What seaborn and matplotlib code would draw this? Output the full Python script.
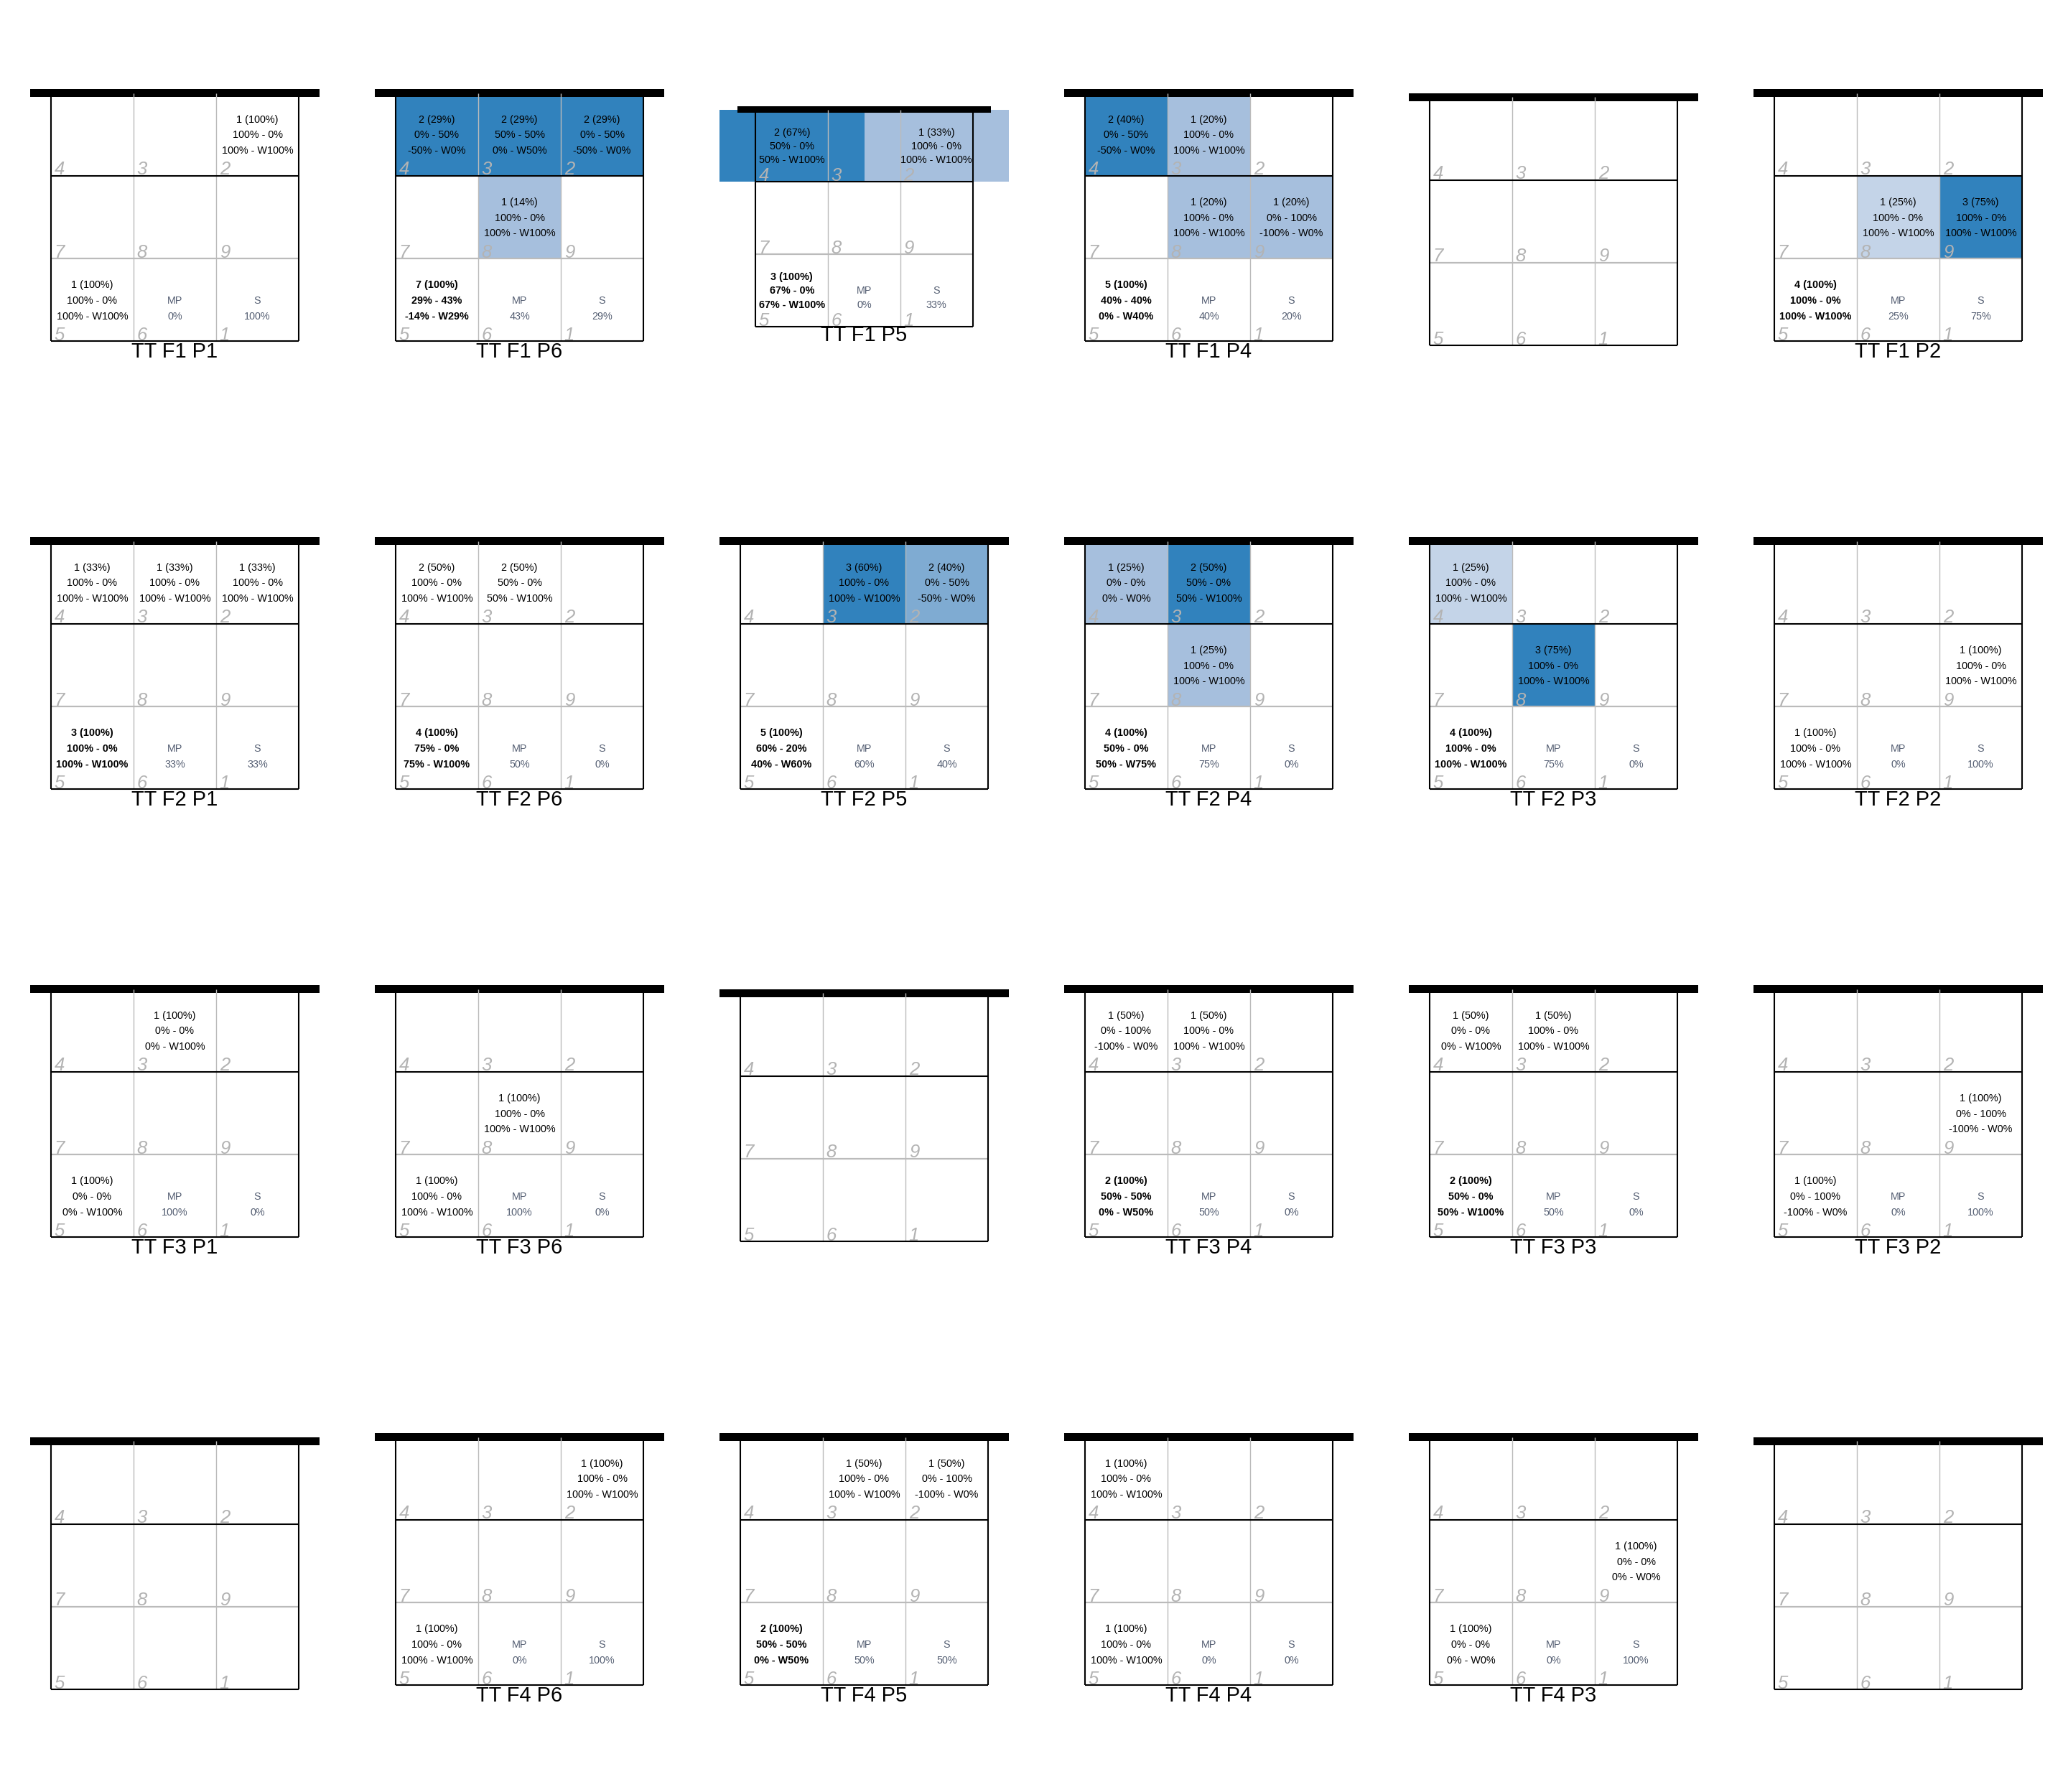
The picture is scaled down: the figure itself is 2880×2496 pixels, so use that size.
import matplotlib
matplotlib.use("Agg")
import matplotlib.pyplot as plt
import seaborn as sns

# panel titles, row by row (4 rows x 6 columns), None = empty court
titles = [
    "TT F1 P1", "TT F1 P6", "TT F1 P5", "TT F1 P4", None, "TT F1 P2",
    "TT F2 P1", "TT F2 P6", "TT F2 P5", "TT F2 P4", "TT F2 P3", "TT F2 P2",
    "TT F3 P1", "TT F3 P6", None, "TT F3 P4", "TT F3 P3", "TT F3 P2",
    None, "TT F4 P6", "TT F4 P5", "TT F4 P4", "TT F4 P3", None,
]

# attack zones per panel: (zone, count, pct, line 2, line 3)
attacks = [
    [(2, 1, 100, "100% - 0%", "100% - W100%")],
    [(4, 2, 29, "0% - 50%", "-50% - W0%"), (3, 2, 29, "50% - 50%", "0% - W50%"),
     (2, 2, 29, "0% - 50%", "-50% - W0%"), (8, 1, 14, "100% - 0%", "100% - W100%")],
    [(4, 2, 67, "50% - 0%", "50% - W100%"), (2, 1, 33, "100% - 0%", "100% - W100%")],
    [(4, 2, 40, "0% - 50%", "-50% - W0%"), (3, 1, 20, "100% - 0%", "100% - W100%"),
     (8, 1, 20, "100% - 0%", "100% - W100%"), (9, 1, 20, "0% - 100%", "-100% - W0%")],
    [],
    [(8, 1, 25, "100% - 0%", "100% - W100%"), (9, 3, 75, "100% - 0%", "100% - W100%")],

    [(4, 1, 33, "100% - 0%", "100% - W100%"), (3, 1, 33, "100% - 0%", "100% - W100%"),
     (2, 1, 33, "100% - 0%", "100% - W100%")],
    [(4, 2, 50, "100% - 0%", "100% - W100%"), (3, 2, 50, "50% - 0%", "50% - W100%")],
    [(3, 3, 60, "100% - 0%", "100% - W100%"), (2, 2, 40, "0% - 50%", "-50% - W0%")],
    [(4, 1, 25, "0% - 0%", "0% - W0%"), (3, 2, 50, "50% - 0%", "50% - W100%"),
     (8, 1, 25, "100% - 0%", "100% - W100%")],
    [(4, 1, 25, "100% - 0%", "100% - W100%"), (8, 3, 75, "100% - 0%", "100% - W100%")],
    [(9, 1, 100, "100% - 0%", "100% - W100%")],

    [(3, 1, 100, "0% - 0%", "0% - W100%")],
    [(8, 1, 100, "100% - 0%", "100% - W100%")],
    [],
    [(4, 1, 50, "0% - 100%", "-100% - W0%"), (3, 1, 50, "100% - 0%", "100% - W100%")],
    [(4, 1, 50, "0% - 0%", "0% - W100%"), (3, 1, 50, "100% - 0%", "100% - W100%")],
    [(9, 1, 100, "0% - 100%", "-100% - W0%")],

    [],
    [(2, 1, 100, "100% - 0%", "100% - W100%")],
    [(3, 1, 50, "100% - 0%", "100% - W100%"), (2, 1, 50, "0% - 100%", "-100% - W0%")],
    [(4, 1, 100, "100% - 0%", "100% - W100%")],
    [(9, 1, 100, "0% - 0%", "0% - W0%")],
    [],
]

# zone 5 summary per panel: (count, line 2, line 3), None = empty court
reception = [
    (1, "100% - 0%", "100% - W100%"), (7, "29% - 43%", "-14% - W29%"),
    (3, "67% - 0%", "67% - W100%"), (5, "40% - 40%", "0% - W40%"),
    None, (4, "100% - 0%", "100% - W100%"),
    (3, "100% - 0%", "100% - W100%"), (4, "75% - 0%", "75% - W100%"),
    (5, "60% - 20%", "40% - W60%"), (4, "50% - 0%", "50% - W75%"),
    (4, "100% - 0%", "100% - W100%"), (1, "100% - 0%", "100% - W100%"),
    (1, "0% - 0%", "0% - W100%"), (1, "100% - 0%", "100% - W100%"),
    None, (2, "50% - 50%", "0% - W50%"),
    (2, "50% - 0%", "50% - W100%"), (1, "0% - 100%", "-100% - W0%"),
    None, (1, "100% - 0%", "100% - W100%"),
    (2, "50% - 50%", "0% - W50%"), (1, "100% - 0%", "100% - W100%"),
    (1, "0% - 0%", "0% - W0%"), None,
]

# MP and S percentages in zones 6 and 1
mp_pct = [0, 43, 0, 40, None, 25,
          33, 50, 60, 75, 75, 0,
          100, 100, None, 50, 50, 0,
          None, 0, 50, 0, 0, None]
s_pct = [100, 29, 33, 20, None, 75,
         33, 0, 40, 0, 0, 100,
         0, 0, None, 0, 0, 100,
         None, 100, 50, 0, 100, None]

# court layout: zone -> (column, row from the back line)
zone_pos = {4: (0, 2), 3: (1, 2), 2: (2, 2),
            7: (0, 1), 8: (1, 1), 9: (2, 1),
            5: (0, 0), 6: (1, 0), 1: (2, 0)}

sns.set_style("white")
plt.rcParams['font.family'] = ['Liberation Sans', 'DejaVu Sans']

blues = sns.blend_palette(["#ffffff", "#a6bfdd", "#3182bd"], as_cmap=True)
grid_grey = '#bbbbbb'
fig = plt.figure(figsize=(28.8, 24.96), dpi=100)

for i, title in enumerate(titles):
    r, c = divmod(i, 6)
    h = 440 / 2496
    cy = 1 - (624 * r + 312) / 2496
    ax = fig.add_axes([(480 * c + 42) / 2880, cy - h / 2, 403 / 2880, h])

    # shaded tiles (tile width follows the spacing of the used columns)
    cells = attacks[i]
    counts = [a[1] for a in cells]
    xlo, xhi = -0.25, 3.25
    if len(set(counts)) > 1:
        cols = sorted(set(zone_pos[a[0]][0] for a in cells))
        res = min(b - a for a, b in zip(cols, cols[1:])) if len(cols) > 1 else 1
        for zone, n, pct, l2, l3 in cells:
            col, row = zone_pos[zone]
            ax.bar(col + 0.5, 1, width=res, bottom=row, color=blues(n / max(counts)),
                   linewidth=0, zorder=1)
            xlo = min(xlo, col + 0.5 - res / 2)
            xhi = max(xhi, col + 0.5 + res / 2)

    # net and court lines
    ax.bar(1.5, 0.096, width=3.5, bottom=2.952, color='black', linewidth=0, zorder=2)
    ax.vlines([1, 2], 0, 3.0, color=grid_grey, lw=1.0, zorder=2.5)
    ax.hlines([1], 0, 3, color=grid_grey, lw=1.6, zorder=2.5)
    ax.vlines([0, 3], 0, 3, color='black', lw=1.5, zorder=3)
    ax.hlines([0, 2], 0, 3, color='black', lw=1.5, zorder=3)

    for zone, (col, row) in zone_pos.items():
        ax.text(col + 0.04, row + 0.012, str(zone), fontsize=18.5, style='italic',
                color='#b3b3b3', ha='left', va='baseline', zorder=5)

    for zone, n, pct, l2, l3 in cells:
        col, row = zone_pos[zone]
        for dy, s in zip([0.68, 0.49, 0.30], [f"{n} ({pct}%)", l2, l3]):
            ax.text(col + 0.5, row + dy, s, fontsize=10.4, ha='center', va='center',
                    color='black', zorder=6)

    if reception[i] is not None:
        n, l2, l3 = reception[i]
        weight = 'bold' if n > 1 else 'normal'
        for dy, s in zip([0.68, 0.49, 0.30], [f"{n} (100%)", l2, l3]):
            ax.text(0.5, dy, s, fontsize=10.4, ha='center', va='center',
                    color='black', fontweight=weight, zorder=6)
        for x, lab, val in [(1.5, "MP", mp_pct[i]), (2.5, "S", s_pct[i])]:
            ax.text(x, 0.49, lab, fontsize=10.4, ha='center', va='center', color='#555f73', zorder=6)
            ax.text(x, 0.30, f"{val}%", fontsize=10.4, ha='center', va='center', color='#555f73', zorder=6)

    if title:
        ax.text(1.5, -0.2, title, fontsize=20.9, ha='center', va='baseline', color='black')

    ax.set_xlim(xlo, xhi)
    ax.set_ylim(-0.216 if title else -0.116, 3.05)
    ax.set_aspect('equal', adjustable='box', anchor='C')
    ax.set_axis_off()

fig.savefig('out.png', dpi=100)
